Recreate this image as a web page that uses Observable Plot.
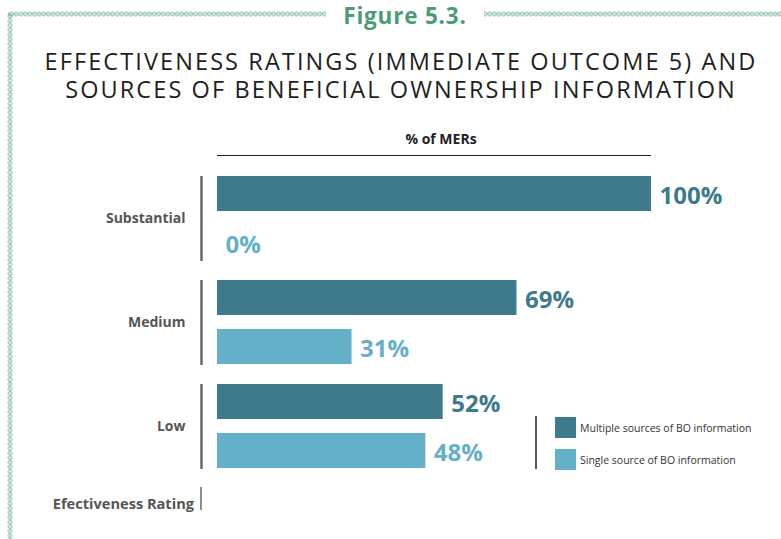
<!DOCTYPE html>
<html>
<head>
<meta charset="utf-8">
<script src="https://cdn.jsdelivr.net/npm/d3@7"></script>
<script src="https://cdn.jsdelivr.net/npm/@observablehq/plot@0.6"></script>
<style>
  html, body { margin: 0; padding: 0; background: #fff; }
  #wrap { position: relative; width: 781px; height: 539px; overflow: hidden; font-family: "Open Sans", sans-serif; }
  #chart { position: absolute; left: 0; top: 0; }
  #decor { position: absolute; left: 0; top: 0; pointer-events: none; }
</style>
</head>
<body>
<div id="wrap">
  <div id="chart"></div>
  <svg id="decor" width="781" height="539" xmlns="http://www.w3.org/2000/svg"></svg>
</div>
<script>
// ---- data ----
const ratings = ["Substantial", "Medium", "Low"];
const sources = ["Multiple sources of BO information", "Single source of BO information"];
const multipleValues = [100, 69, 52];
const singleValues = [0, 31, 48];
const colors = ["#3d7a8b", "#64b0c8"];
const figureLabel = "Figure 5.3.";
const titleLines = ["EFFECTIVENESS RATINGS (IMMEDIATE OUTCOME 5) AND", "SOURCES OF BENEFICIAL OWNERSHIP INFORMATION"];
const xAxisTitle = "% of MERs";
const yAxisTitle = "Efectiveness Rating";

const data = ratings.flatMap((r, i) => [
  {rating: r, source: sources[0], value: multipleValues[i]},
  {rating: r, source: sources[1], value: singleValues[i]}
]);

const W = 781, H = 539;
const mL = 217, mR = 130, mT = 176, mB = 70;

const plot = Plot.plot({
  width: W,
  height: H,
  marginTop: mT,
  marginBottom: mB,
  marginLeft: mL,
  marginRight: mR,
  style: {fontFamily: "Open Sans, sans-serif", color: "#555", background: "transparent"},
  x: {domain: [0, 100], axis: null},
  y: {domain: sources, axis: null, paddingInner: 0.2857, paddingOuter: 0},
  fy: {domain: ratings, paddingInner: 0.1827, paddingOuter: 0, label: null},
  color: {domain: sources, range: colors},
  marks: [
    Plot.barX(data, {x: "value", y: "source", fy: "rating", fill: "source"}),
    Plot.text(data, {
      x: "value", y: "source", fy: "rating",
      text: d => d.value + "%",
      fill: "source", textAnchor: "start", dx: 8, dy: 2,
      fontSize: 24, fontWeight: "bold"
    }),
    Plot.ruleX([0], {dx: -16, stroke: "#666", strokeWidth: 2.5}),
    Plot.axisFy({anchor: "left", tickSize: 0, tickPadding: 32, fontSize: 14, fontWeight: "bold", label: null})
  ]
});
document.getElementById("chart").appendChild(plot);

// ---- decorations, titles, legend ----
const x = plot.scale("x");
const svg = d3.select("#decor");
const green = "#4a9c74";

const defs = svg.append("defs");
const ph = defs.append("pattern").attr("id", "chainH").attr("patternUnits", "userSpaceOnUse")
  .attr("width", 4.6).attr("height", 5).attr("x", 0).attr("y", 11.5);
ph.append("circle").attr("cx", 2.3).attr("cy", 2.5).attr("r", 1.75)
  .attr("fill", "none").attr("stroke", green).attr("stroke-width", 0.9);
const pv = defs.append("pattern").attr("id", "chainV").attr("patternUnits", "userSpaceOnUse")
  .attr("width", 5).attr("height", 4.6).attr("x", 7.5).attr("y", 0);
pv.append("circle").attr("cx", 2.5).attr("cy", 2.3).attr("r", 1.75)
  .attr("fill", "none").attr("stroke", green).attr("stroke-width", 0.9);

svg.append("rect").attr("x", 8).attr("y", 11.5).attr("width", 318).attr("height", 5).attr("fill", "url(#chainH)");
svg.append("rect").attr("x", 484).attr("y", 11.5).attr("width", 297).attr("height", 5).attr("fill", "url(#chainH)");
svg.append("rect").attr("x", 7.5).attr("y", 14).attr("width", 5).attr("height", 525).attr("fill", "url(#chainV)");

svg.append("text").attr("x", 405).attr("y", 24).attr("text-anchor", "middle")
  .attr("font-family", "Open Sans, sans-serif").attr("font-weight", "bold").attr("font-size", 22.5)
  .attr("letter-spacing", "0.8px").attr("fill", green).text(figureLabel);

titleLines.forEach((t, i) => {
  svg.append("text").attr("x", 401).attr("y", 69.5 + i * 28).attr("text-anchor", "middle")
    .attr("font-family", "Open Sans, sans-serif").attr("font-weight", 400).attr("font-size", 23.5)
    .attr("letter-spacing", "2.1px").attr("fill", "#1e1e1e").text(t);
});

// x title + rule
svg.append("text").attr("x", 441).attr("y", 144).attr("text-anchor", "middle")
  .attr("font-family", "Open Sans, sans-serif").attr("font-weight", "bold").attr("font-size", 14)
  .attr("fill", "#222").text(xAxisTitle);
svg.append("line").attr("x1", x.apply(0)).attr("x2", x.apply(100)).attr("y1", 155.5).attr("y2", 155.5)
  .attr("stroke", "#222").attr("stroke-width", 1.2);

// y title + small rule
svg.append("text").attr("x", 194).attr("y", 509).attr("text-anchor", "end")
  .attr("font-family", "Open Sans, sans-serif").attr("font-weight", "bold").attr("font-size", 14.6)
  .attr("fill", "#555").text(yAxisTitle);
svg.append("line").attr("x1", 201).attr("x2", 201).attr("y1", 487).attr("y2", 510)
  .attr("stroke", "#444").attr("stroke-width", 1.2);

// legend
svg.append("line").attr("x1", 536).attr("x2", 536).attr("y1", 416).attr("y2", 469)
  .attr("stroke", "#222").attr("stroke-width", 1.5);
sources.forEach((s, i) => {
  svg.append("rect").attr("x", 555).attr("y", 417 + i * 32).attr("width", 21).attr("height", 21).attr("fill", colors[i]);
  svg.append("text").attr("x", 580).attr("y", 431.5 + i * 32)
    .attr("font-family", "Open Sans, sans-serif").attr("font-size", 10.5).attr("fill", "#333").text(s);
});
</script>
</body>
</html>
